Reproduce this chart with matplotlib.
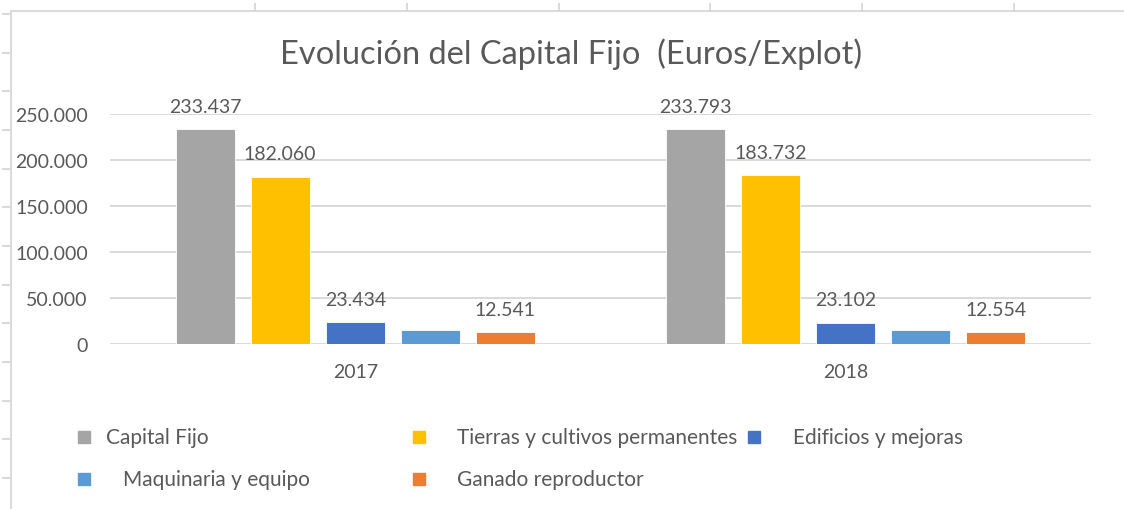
import numpy as np
import matplotlib
matplotlib.use("Agg")
import matplotlib.pyplot as plt
from matplotlib.patches import Rectangle

plt.rcParams["font.family"] = ["Lato", "DejaVu Sans"]

# data
years = ["2017", "2018"]
series_names = [
    "Capital Fijo",
    "Tierras y cultivos permanentes",
    "Edificios y mejoras",
    "Maquinaria y equipo",
    "Ganado reproductor",
]
capital_fijo = [233437, 233793]
tierras = [182060, 183732]
edificios = [23434, 23102]
maquinaria = [15200, 15200]  # no label in the original
ganado = [12541, 12554]
show_labels = [True, True, True, False, True]
colors = ["#A5A5A5", "#FFC000", "#4472C4", "#5B9BD5", "#ED7D31"]
title = "Evolución del Capital Fijo  (Euros/Explot)"

W, H = 1124, 510
TXT = "#595959"
GRID = "#d9d9d9"

fig = plt.figure(figsize=(W / 100, H / 100), dpi=100)

# spreadsheet cell lines behind the chart
bg = fig.add_axes([0, 0, 1, 1], zorder=0)
bg.set_xlim(0, W)
bg.set_ylim(H, 0)
bg.axis("off")
bg.plot([11, W], [12.3, 12.3], color=GRID, lw=1.4)
bg.plot([11, 11], [12.3, H], color=GRID, lw=1.4)
for yy in np.arange(15, H, 38.67):
    bg.plot([3, 11], [yy, yy], color=GRID, lw=1.4)
for xx in np.arange(255, W, 151.8):
    bg.plot([xx, xx], [5, 12.3], color=GRID, lw=1.4)

# title
bg.text(571.5, 64, title, ha="center", va="baseline", fontsize=23.5, color=TXT)

ax = fig.add_axes([110 / W, (H - 345) / H, 981 / W, 230 / H], zorder=1)
ax.set_facecolor("none")

all_series = [capital_fijo, tierras, edificios, maquinaria, ganado]
x = np.arange(len(years))
width = 0.12
pitch = 0.153
for i, (name, vals) in enumerate(zip(series_names, all_series)):
    pos = x + (i - 2) * pitch
    bars = ax.bar(pos, vals, width=width, color=colors[i], edgecolor="white",
                  linewidth=0.6, label=name, zorder=3)
    if show_labels[i]:
        for b, v in zip(bars, vals):
            ax.annotate(f"{v:,}".replace(",", "."),
                        (b.get_x() + b.get_width() / 2, v),
                        xytext=(0, 12.5), textcoords="offset points",
                        ha="center", va="baseline", fontsize=14, color=TXT)

ax.set_xlim(-0.5, 1.5)
ax.set_ylim(0, 250000)
ax.set_yticks(np.arange(0, 250001, 50000))
ax.set_yticklabels([f"{v:,}".replace(",", ".") for v in range(0, 250001, 50000)])
ax.set_xticks(x)
ax.set_xticklabels(years)
ax.tick_params(axis="both", length=0, labelsize=14, labelcolor=TXT)
ax.tick_params(axis="y", pad=16)
ax.tick_params(axis="x", pad=14)
ax.yaxis.grid(True, color=GRID, lw=1.4, zorder=0)
ax.set_axisbelow(True)
for s in ax.spines.values():
    s.set_visible(False)

# legend laid out like the spreadsheet one (fixed columns)
leg_pos = [(78, 438, 106), (413, 438, 457), (748, 438, 793),
           (78, 480, 123), (413, 480, 457)]
for (mx, my, tx), name, c in zip(leg_pos, series_names, colors):
    bg.add_patch(Rectangle((mx, my - 6), 12, 12, color=c))
    bg.text(tx, my, name, ha="left", va="center", fontsize=15, color=TXT)

fig.savefig("out.png", dpi=100)
